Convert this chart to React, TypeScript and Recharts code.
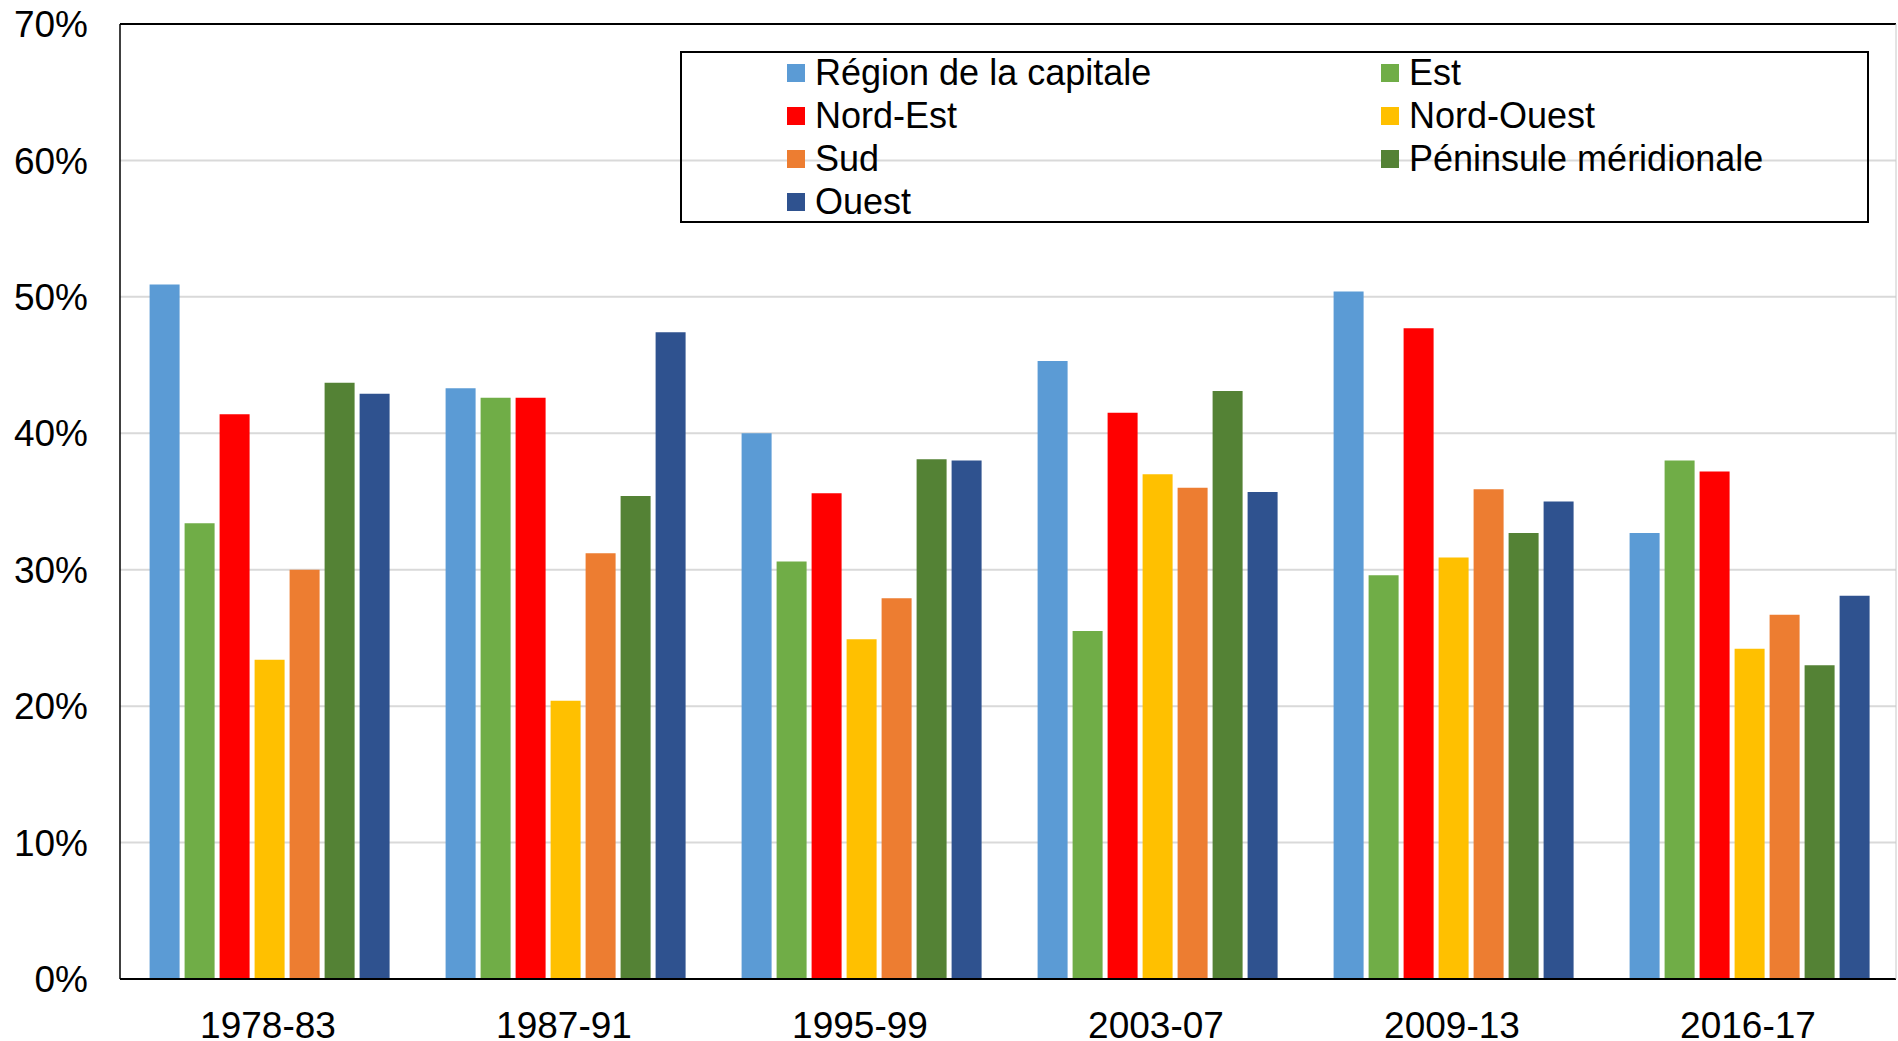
import { BarChart, Bar, XAxis, YAxis, CartesianGrid, Legend } from 'recharts'

const periods = ['1978-83', '1987-91', '1995-99', '2003-07', '2009-13', '2016-17']

const capitale = [50.9, 43.3, 40.0, 45.3, 50.4, 32.7]
const est = [33.4, 42.6, 30.6, 25.5, 29.6, 38.0]
const nordEst = [41.4, 42.6, 35.6, 41.5, 47.7, 37.2]
const nordOuest = [23.4, 20.4, 24.9, 37.0, 30.9, 24.2]
const sud = [30.0, 31.2, 27.9, 36.0, 35.9, 26.7]
const peninsule = [43.7, 35.4, 38.1, 43.1, 32.7, 23.0]
const ouest = [42.9, 47.4, 38.0, 35.7, 35.0, 28.1]

const yTicks = [0, 10, 20, 30, 40, 50, 60, 70]

const series = [
  { key: 'capitale', name: 'Région de la capitale', color: '#5B9BD5', values: capitale },
  { key: 'est', name: 'Est', color: '#70AD47', values: est },
  { key: 'nordEst', name: 'Nord-Est', color: '#FF0000', values: nordEst },
  { key: 'nordOuest', name: 'Nord-Ouest', color: '#FFC000', values: nordOuest },
  { key: 'sud', name: 'Sud', color: '#ED7D31', values: sud },
  { key: 'peninsule', name: 'Péninsule méridionale', color: '#548235', values: peninsule },
  { key: 'ouest', name: 'Ouest', color: '#2F528F', values: ouest },
]

const data = periods.map((period, i) => {
  const row: Record<string, string | number> = { period }
  series.forEach((s) => {
    row[s.key] = s.values[i]
  })
  return row
})

const FONT = '"Liberation Sans", Arial, sans-serif'

// legend keeps the series order (row by row, two columns)
function LegendBox() {
  return (
    <div
      style={{
        border: '2px solid #000',
        boxSizing: 'border-box',
        height: 172,
        paddingLeft: 105,
        display: 'grid',
        gridTemplateColumns: '594px 1fr',
        gridAutoRows: 43,
        fontFamily: FONT,
        fontSize: 36,
        color: '#000',
      }}
    >
      {series.map((s) => (
        <div
          key={s.key}
          style={{ display: 'flex', alignItems: 'center', whiteSpace: 'nowrap', marginTop: -3 }}
        >
          <span
            style={{
              width: 18,
              height: 18,
              background: s.color,
              marginRight: 10,
              display: 'inline-block',
            }}
          />
          <span>{s.name}</span>
        </div>
      ))}
    </div>
  )
}

export default function App() {
  return (
    <div style={{ position: 'absolute', left: 0, top: 0, background: '#fff' }}>
      <BarChart
        width={1898}
        height={1041}
        data={data}
        margin={{ top: 23, right: 1, bottom: 0, left: 0 }}
        barCategoryGap="10%"
        barGap={5}
      >
        <CartesianGrid vertical={false} stroke="#d9d9d9" strokeWidth={2} />
        <XAxis
          dataKey="period"
          height={62}
          tickLine={false}
          tickSize={6}
          tickMargin={27}
          axisLine={{ stroke: '#000', strokeWidth: 2 }}
          tick={{ fill: '#000', fontSize: 37, fontFamily: FONT }}
        />
        <XAxis
          xAxisId="top"
          dataKey="period"
          orientation="top"
          height={1}
          tick={false}
          tickLine={false}
          axisLine={{ stroke: '#000', strokeWidth: 2 }}
        />
        <YAxis
          width={120}
          domain={[0, 70]}
          ticks={yTicks}
          interval={0}
          tickFormatter={(v: number) => `${v}%`}
          tickLine={false}
          tickSize={6}
          tickMargin={26}
          axisLine={{ stroke: '#000', strokeWidth: 1.5 }}
          tick={{ fill: '#000', fontSize: 37, fontFamily: FONT }}
        />
        <YAxis
          yAxisId="right"
          orientation="right"
          width={1}
          domain={[0, 70]}
          tick={false}
          tickLine={false}
          axisLine={{ stroke: '#c8c8c8', strokeWidth: 1 }}
        />
        <Legend
          layout="horizontal"
          verticalAlign="middle"
          align="center"
          content={<LegendBox />}
          wrapperStyle={{ top: 51, left: 680, width: 1189, height: 172 }}
        />
        {series.map((s) => (
          <Bar key={s.key} dataKey={s.key} name={s.name} fill={s.color} isAnimationActive={false} />
        ))}
      </BarChart>
    </div>
  )
}
